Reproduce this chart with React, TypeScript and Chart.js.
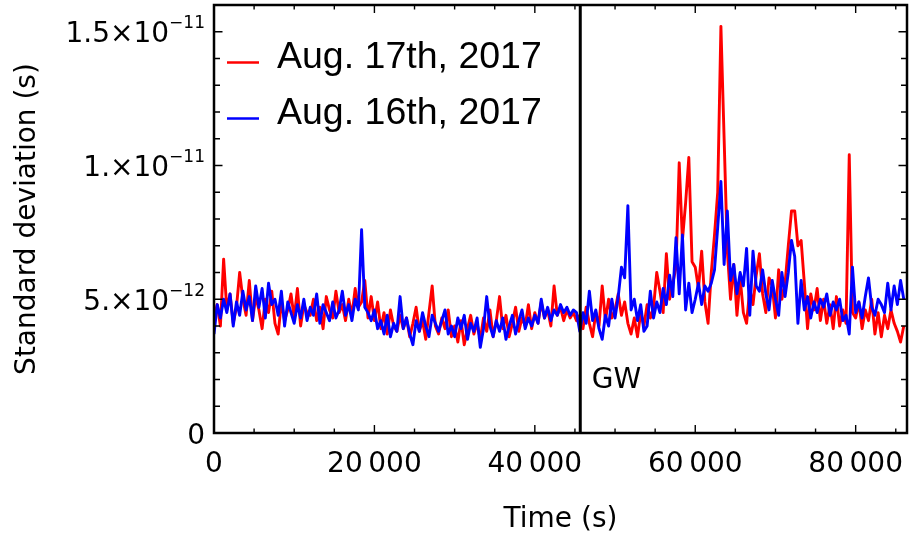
import React, { useEffect, useRef } from "react";
import { Chart, registerables } from "chart.js";

Chart.register(...registerables);

// Sampling interval of both series (seconds)
const SAMPLE_STEP_S = 400;

// Standard deviation, in units of 1e-12 s (picoseconds)
const AUG17_PS = [
  4.3, 4.8, 4.0, 6.5, 4.6, 5.2, 4.1, 4.7, 6.0, 5.0,
  4.4, 5.7, 4.2, 5.1, 4.6, 3.9, 5.0, 4.5, 5.3, 4.1,
  3.7, 4.9, 4.2, 4.6, 5.2, 4.3, 5.4, 4.0, 4.8, 4.5,
  4.4, 5.0, 4.2, 4.7, 3.9, 5.1, 4.6, 4.3, 5.3, 4.5,
  4.8, 4.2, 5.0, 4.4, 5.4, 4.7, 4.9, 5.7, 4.3, 5.1,
  4.2, 4.9, 3.9, 4.5, 3.7, 4.6, 4.0, 3.8, 4.4, 3.9,
  4.3, 3.6, 4.1, 4.7, 3.8, 4.2, 3.5, 4.5, 5.5, 4.0,
  3.7, 4.3, 3.9, 4.6, 3.6, 4.0, 3.4, 4.2, 3.3, 3.9,
  4.4, 3.7, 4.1, 3.5, 4.3, 3.8, 4.6, 3.6, 4.2, 5.1,
  3.9, 4.4, 3.6, 4.1, 4.7, 3.8, 4.3, 4.0, 4.8, 3.9,
  4.5, 4.1, 4.9, 4.3, 4.6, 4.0, 5.5, 4.4, 4.7, 4.2,
  4.6, 4.3, 4.5, 4.2, 4.4, 3.9, 4.7, 4.1, 3.6, 4.5,
  4.0, 5.5, 4.2, 5.0, 4.3, 4.6, 5.2, 4.4, 4.9, 4.1,
  3.7, 4.3, 3.6, 4.5, 4.0, 4.8, 4.3, 4.7, 6.0, 5.3,
  4.5, 6.7, 5.0, 5.6, 6.2, 10.1, 7.2, 8.6, 10.3, 6.4,
  6.2, 5.4, 6.8, 4.9, 4.1, 6.0, 7.4, 9.0, 15.2, 11.0,
  6.8, 5.0, 6.3, 4.4, 5.8, 4.5, 4.1, 5.4, 4.8, 5.9,
  6.7, 5.2, 4.5, 5.8, 5.5, 4.3, 6.1, 5.0, 5.6, 7.0,
  8.3, 8.3, 7.0, 7.2, 5.6, 3.9, 5.2, 4.6, 5.4, 4.2,
  5.0, 4.1, 4.8, 3.9, 5.1, 4.0, 4.6, 4.1, 10.4, 4.5,
  4.3, 4.9, 3.9, 4.6, 4.2, 5.0, 3.7, 4.5, 3.6, 4.4,
  3.9, 4.6, 4.1, 3.8, 3.4, 4.0,
];

const AUG16_PS = [
  3.7, 4.8, 4.3, 5.0, 4.5, 5.2, 4.0, 4.9, 4.4, 5.3,
  4.6, 5.1, 4.2, 5.5, 4.7, 5.4, 4.3, 5.6, 4.8, 5.0,
  4.4, 5.3, 4.0, 4.9, 4.5, 4.1, 4.8, 4.3, 5.0, 4.2,
  4.7, 4.4, 5.2, 4.1, 4.8, 4.5, 4.2, 4.9, 4.3, 4.6,
  5.3, 4.4, 4.8, 4.2, 5.0, 4.6, 7.6, 4.7, 4.5, 4.2,
  4.6, 3.9, 4.2, 3.7, 4.4, 3.6, 4.1, 3.8, 5.1, 3.9,
  4.3, 3.7, 3.3, 4.2, 3.8, 4.5, 4.0, 3.6, 4.4, 4.1,
  3.8, 4.2, 4.6, 3.7, 4.0, 3.6, 4.3, 3.9, 4.4, 3.5,
  4.1, 3.8, 4.3, 3.2, 3.9, 5.1, 4.0, 3.6, 4.2, 3.8,
  4.3, 3.5, 4.0, 4.4, 3.7, 4.2, 4.6, 3.9, 4.3, 4.0,
  4.4, 4.1, 5.0, 4.3, 4.7, 4.2, 4.6, 4.4, 4.8, 4.5,
  4.7, 4.4, 4.6, 4.5, 3.8, 4.5, 4.1, 5.3, 4.2, 4.6,
  3.9, 3.5, 4.4, 4.0, 5.0, 4.3, 5.1, 6.2, 5.8, 8.5,
  4.6, 5.0, 4.2, 4.8, 3.8, 4.0, 5.3, 4.3, 4.9, 4.5,
  5.4, 4.8, 5.9, 5.1, 7.3, 5.2, 7.4, 4.6, 5.6, 4.5,
  5.0, 5.6, 4.8, 5.5, 5.3, 5.6, 6.1, 7.7, 9.4, 6.3,
  8.3, 5.7, 6.3, 5.2, 6.0, 5.5, 6.9, 4.4, 6.8, 5.5,
  5.3, 6.1, 5.2, 4.6, 5.7, 5.0, 4.4, 6.0, 5.1, 6.0,
  7.2, 6.6, 4.1, 5.7, 4.6, 5.1, 4.3, 4.9, 4.5, 5.0,
  4.7, 5.2, 4.4, 4.9, 4.6, 5.0, 4.2, 4.4, 3.7, 6.2,
  4.5, 4.9, 4.3, 5.1, 5.8, 4.7, 4.4, 5.0, 4.8, 4.5,
  5.6, 4.6, 5.5, 4.8, 5.7, 5.0,
];

const SERIES_LABELS = ["Aug. 17th, 2017", "Aug. 16th, 2017"];
const SERIES_COLORS = ["#ff0000", "#0000ff"];

const X_MAX = 86400;
const X_MAJOR_TICKS = [0, 20000, 40000, 60000, 80000];
const X_MINOR_STEP = 5000;

const Y_MAX = 16; // 1.6e-11 s
const Y_MAJOR_TICKS = [0, 5, 10, 15];
const Y_MINOR_STEP = 1;
const Y_TICK_MANTISSAS = ["0", "5.\u00d710", "1.\u00d710", "1.5\u00d710"];
const Y_TICK_EXPONENTS = ["", "\u221212", "\u221211", "\u221211"];

const GW_TIME = 45664;
const GW_LABEL = "GW";
const X_TITLE = "Time (s)";
const Y_TITLE = "Standard deviation (s)";

const FONT = "'DejaVu Sans', sans-serif";
const LEGEND_FONT = "'Liberation Sans', Arial, sans-serif";

function toPoints(values: number[]) {
  return values.map((v, i) => ({ x: i * SAMPLE_STEP_S, y: v }));
}

function fmtThousands(n: number): string {
  if (n < 10000) return String(n);
  const s = String(n);
  return s.slice(0, s.length - 3) + "\u2009" + s.slice(s.length - 3);
}

const framePlugin = {
  id: "mmaFrame",
  afterDatasetsDraw(chart: any) {
    const { ctx, chartArea: a, scales } = chart;
    const xs = scales.x;
    const ys = scales.y;
    ctx.save();
    ctx.strokeStyle = "#000";
    ctx.fillStyle = "#000";

    // GW vertical line
    const gx = xs.getPixelForValue(GW_TIME);
    ctx.lineWidth = 3;
    ctx.beginPath();
    ctx.moveTo(gx, a.top);
    ctx.lineTo(gx, a.bottom);
    ctx.stroke();

    // Frame
    ctx.lineWidth = 2.5;
    ctx.strokeRect(a.left, a.top, a.right - a.left, a.bottom - a.top);

    // Ticks (inward, all four sides)
    ctx.lineWidth = 1.4;
    ctx.beginPath();
    for (let v = 0; v <= X_MAX; v += X_MINOR_STEP) {
      const len = X_MAJOR_TICKS.includes(v) ? 8 : 4.5;
      const px = xs.getPixelForValue(v);
      ctx.moveTo(px, a.bottom);
      ctx.lineTo(px, a.bottom - len);
      ctx.moveTo(px, a.top);
      ctx.lineTo(px, a.top + len);
    }
    for (let v = 0; v <= Y_MAX; v += Y_MINOR_STEP) {
      const len = Y_MAJOR_TICKS.includes(v) ? 8.5 : 6;
      const py = ys.getPixelForValue(v);
      ctx.moveTo(a.left, py);
      ctx.lineTo(a.left + len, py);
      ctx.moveTo(a.right, py);
      ctx.lineTo(a.right - len, py);
    }
    ctx.stroke();

    // X tick labels
    ctx.font = `28px ${FONT}`;
    ctx.textAlign = "center";
    ctx.textBaseline = "alphabetic";
    X_MAJOR_TICKS.forEach((v) => {
      ctx.fillText(fmtThousands(v), xs.getPixelForValue(v), a.bottom + 39);
    });

    // Y tick labels with superscript exponents
    const rightEdge = a.left - 9;
    Y_MAJOR_TICKS.forEach((v, i) => {
      const py = ys.getPixelForValue(v);
      const exp = Y_TICK_EXPONENTS[i];
      let x = rightEdge;
      ctx.textAlign = "right";
      if (exp) {
        ctx.font = `17px ${FONT}`;
        ctx.fillText(exp, x, py - 3.5);
        x -= ctx.measureText(exp).width;
      }
      ctx.font = `28px ${FONT}`;
      ctx.fillText(Y_TICK_MANTISSAS[i], x, py + 10.5);
    });

    // Axis titles
    ctx.font = `28px ${FONT}`;
    ctx.textAlign = "center";
    ctx.fillText(X_TITLE, (a.left + a.right) / 2, 527);
    ctx.save();
    ctx.translate(34.5, (a.top + a.bottom) / 2);
    ctx.rotate(-Math.PI / 2);
    ctx.fillText(Y_TITLE, 0, 0);
    ctx.restore();

    // GW label
    ctx.textAlign = "left";
    ctx.font = `28px ${FONT}`;
    ctx.fillText(GW_LABEL, gx + 11.5, 388);

    // Legend
    ctx.font = `37.5px ${LEGEND_FONT}`;
    SERIES_LABELS.forEach((label, i) => {
      const base = 68 + i * 56;
      ctx.strokeStyle = SERIES_COLORS[i];
      ctx.lineWidth = 2.5;
      ctx.beginPath();
      ctx.moveTo(227, base - 5.5);
      ctx.lineTo(259, base - 5.5);
      ctx.stroke();
      ctx.fillStyle = "#000";
      ctx.fillText(label, 277, base);
    });

    ctx.restore();
  },
};

export default function App() {
  const canvasRef = useRef<HTMLCanvasElement | null>(null);

  useEffect(() => {
    if (!canvasRef.current) return;
    const chart = new Chart(canvasRef.current, {
      type: "line",
      data: {
        datasets: [
          {
            label: SERIES_LABELS[0],
            data: toPoints(AUG17_PS),
            borderColor: SERIES_COLORS[0],
            backgroundColor: SERIES_COLORS[0],
            borderWidth: 2.9,
            pointRadius: 0,
            tension: 0,
            borderJoinStyle: "round",
            order: 2,
          },
          {
            label: SERIES_LABELS[1],
            data: toPoints(AUG16_PS),
            borderColor: SERIES_COLORS[1],
            backgroundColor: SERIES_COLORS[1],
            borderWidth: 2.9,
            pointRadius: 0,
            tension: 0,
            borderJoinStyle: "round",
            order: 1,
          },
        ],
      },
      options: {
        animation: false,
        responsive: false,
        devicePixelRatio: 1,
        layout: { padding: { top: 5, right: 2, left: 0, bottom: 0 } },
        plugins: {
          legend: { display: false },
          tooltip: { enabled: false },
          title: { display: false },
        },
        scales: {
          x: {
            type: "linear",
            min: 0,
            max: X_MAX,
            grid: { display: false },
            border: { display: false },
            ticks: { display: false },
            afterFit: (s: any) => {
              s.height = 100;
            },
          },
          y: {
            type: "linear",
            min: 0,
            max: Y_MAX,
            grid: { display: false },
            border: { display: false },
            ticks: { display: false },
            afterFit: (s: any) => {
              s.width = 214;
            },
          },
        },
      } as any,
      plugins: [framePlugin],
    });
    return () => chart.destroy();
  }, []);

  return (
    <div style={{ position: "absolute", left: 0, top: 0, width: 909, height: 533, background: "#fff" }}>
      <canvas ref={canvasRef} width={909} height={533} style={{ display: "block" }} />
    </div>
  );
}
